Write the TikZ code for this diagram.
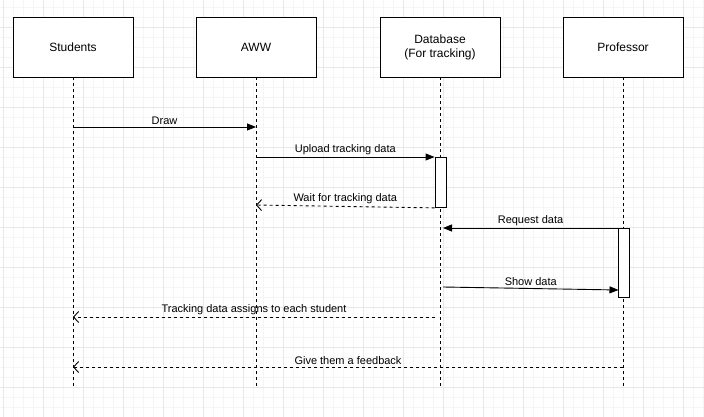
\documentclass[tikz,border=0pt]{standalone}
\usepackage{fontspec}
\setmainfont{Liberation Sans}
\usetikzlibrary{arrows.meta}

\begin{document}
\begin{tikzpicture}[x=1pt,y=-1pt,line width=0.9pt,
            actor/.style={shape=rectangle, draw, fill=white, minimum width=120pt, minimum height=60pt, align=center, font=\fontsize{12}{14}\selectfont},
            actbar/.style={shape=rectangle, draw, fill=white, minimum width=11pt, inner sep=0pt, anchor=north},
            life/.style={dash pattern=on 3pt off 3pt},
            call/.style={-{Triangle[length=9pt,width=7pt]}},
            back/.style={dash pattern=on 3pt off 3pt, -{Straight Barb[length=5pt,width=11pt]}},
            msglabel/.style={above, inner sep=2pt, font=\fontsize{11}{13}\selectfont},
            minorgrid/.style={draw=black!4, line width=0.8pt},
            majorgrid/.style={draw=black!9, line width=0.8pt}]
        \useasboundingbox (0,0) rectangle (704,417);
        \fill[white] (0,0) rectangle (704,417);

        % grid
        \foreach \x in {3,13,...,703} \draw[minorgrid] (\x,0) -- (\x,417);
        \foreach \y in {7,17,...,417} \draw[minorgrid] (0,\y) -- (704,\y);
        \foreach \x in {3,43,...,683} \draw[majorgrid] (\x,0) -- (\x,417);
        \foreach \y in {27,67,...,387} \draw[majorgrid] (0,\y) -- (704,\y);

        % actors
        \node[actor] (stu) at (73,47) {Students};
        \node[actor] (aww) at (256,47) {AWW};
        \node[actor] (db) at (440,47) {Database\\ (For tracking)};
        \node[actor] (prof) at (623,47) {Professor};

        % lifelines
        \coordinate (stuend) at (73,387);
        \coordinate (awwend) at (256,387);
        \coordinate (dbend) at (440,387);
        \coordinate (profend) at (623,387);
        \draw[life] (stu.south) -- (stuend);
        \draw[life] (aww.south) -- (awwend);
        \draw[life] (db.south) -- (dbend);
        \draw[life] (prof.south) -- (profend);

        % activations
        \node[actbar, minimum height=50pt] (dbbar) at (440.5,157) {};
        \node[actbar, minimum height=69pt] (profbar) at (624,228) {};

        % message ends
        \coordinate (drawa) at (73,127);
        \coordinate (drawb) at (256,127);
        \coordinate (upa) at (256,157);
        \coordinate (waitb) at (256,205);
        \coordinate (reqb) at (443,228);
        \coordinate (showa) at (443,287);
        \coordinate (showb) at (618.5,290);
        \coordinate (tracka) at (435,317);
        \coordinate (trackb) at (73,317);
        \coordinate (feeda) at (623,367);
        \coordinate (feedb) at (73,367);

        % messages
        \draw[call] (drawa) -- node[msglabel] {Draw} (drawb);
        \draw[call] (upa) -- node[msglabel] {Upload tracking data} (dbbar.north west);
        \draw[back] (dbbar.south west) -- node[msglabel] {Wait for tracking data} (waitb);
        \draw[call] (profbar.north west) -- node[msglabel] {Request data} (reqb);
        \draw[call] (showa) -- node[msglabel] {Show data} (showb);
        \draw[back] (tracka) -- node[msglabel] {Tracking data assigns to each student} (trackb);
        \draw[back] (feeda) -- node[msglabel] {Give them a feedback} (feedb);
    \end{tikzpicture}
\end{document}
